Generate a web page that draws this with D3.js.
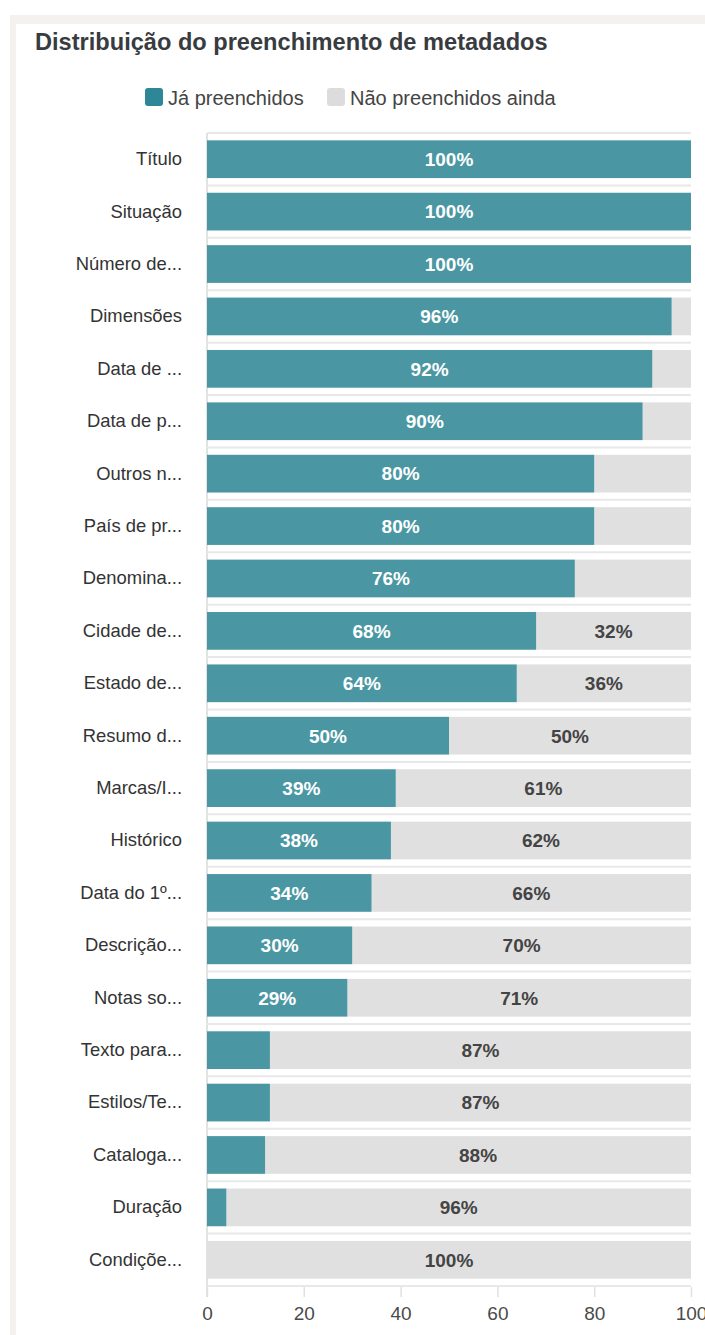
<!DOCTYPE html>
<html>
<head>
<meta charset="utf-8">
<script src="https://cdn.jsdelivr.net/npm/d3@7/dist/d3.min.js"></script>
<style>
  html, body { margin: 0; padding: 0; background: #fff; }
  svg { display: block; font-family: "Liberation Sans", Arial, Helvetica, sans-serif; }
</style>
</head>
<body>
<script>
// Metadata fields (short labels as shown on the axis)
const categories = [
  "Título", "Situação", "Número de...", "Dimensões", "Data de ...", "Data de p...",
  "Outros n...", "País de pr...", "Denomina...", "Cidade de...", "Estado de...",
  "Resumo d...", "Marcas/I...", "Histórico", "Data do 1º...", "Descrição...",
  "Notas so...", "Texto para...", "Estilos/Te...", "Cataloga...", "Duração", "Condiçõe..."
];
// Percentage of records with the field filled in
const filled = [100, 100, 100, 96, 92, 90, 80, 80, 76, 68, 64, 50, 39, 38, 34, 30, 29, 13, 13, 12, 4, 0];
// Percentage still empty
const notFilled = [0, 0, 0, 4, 8, 10, 20, 20, 24, 32, 36, 50, 61, 62, 66, 70, 71, 87, 87, 88, 96, 100];
const seriesNames = ["Já preenchidos", "Não preenchidos ainda"];
const xTicks = [0, 20, 40, 60, 80, 100];

const W = 705, H = 1335;
const colors = { filled: "#4a97a3", empty: "#e0e0e0", swatchFilled: "#2e8796", swatchEmpty: "#dcdcdc" };

const svg = d3.select("body").append("svg").attr("width", W).attr("height", H);

// Panel frame: light grey border on top and left
svg.append("rect").attr("x", 10).attr("y", 15).attr("width", W - 10).attr("height", H - 15).attr("fill", "#f3f2f1");
svg.append("rect").attr("x", 16).attr("y", 24).attr("width", W - 16).attr("height", H - 24).attr("fill", "#fff");

svg.append("text")
  .attr("x", 35).attr("y", 50)
  .attr("font-size", 23.6).attr("font-weight", "bold").attr("fill", "#383c40")
  .text("Distribuição do preenchimento de metadados");

// Legend
const legendItems = [
  { name: seriesNames[0], color: colors.swatchFilled, x: 145, tx: 168 },
  { name: seriesNames[1], color: colors.swatchEmpty, x: 327, tx: 350 }
];
const lg = svg.append("g");
lg.selectAll("rect").data(legendItems).join("rect")
  .attr("x", d => d.x).attr("y", 88).attr("width", 18).attr("height", 18).attr("rx", 3)
  .attr("fill", d => d.color);
lg.selectAll("text").data(legendItems).join("text")
  .attr("x", d => d.tx).attr("y", 105)
  .attr("font-size", 20).attr("fill", "#444")
  .text(d => d.name);

// Scales
const x = d3.scaleLinear().domain([0, 100]).range([207, 691]);
const y = d3.scaleBand().domain(categories).range([133, 1286]).paddingInner(0.28).paddingOuter(0.14);

const rows = categories.map((c, i) => ({ cat: c, filled: filled[i], empty: notFilled[i] }));

// Baseline at zero
svg.append("line")
  .attr("x1", x(0)).attr("x2", x(0)).attr("y1", 133).attr("y2", 1297)
  .attr("stroke", "#e2e2e2").attr("stroke-width", 2);

// Horizontal separators between category bands
const bounds = categories.map(c => y(c) - y.step() * y.paddingInner() / 2).concat([y.range()[1]]);
svg.append("g").selectAll("line").data(bounds).join("line")
  .attr("x1", x(0)).attr("x2", x(100))
  .attr("y1", d => d).attr("y2", d => d)
  .attr("stroke", "#e8e8e8").attr("stroke-width", 2);

// Stacked bars
const g = svg.append("g");
g.selectAll("rect.empty").data(rows).join("rect").attr("class", "empty")
  .attr("x", d => x(d.filled)).attr("y", d => y(d.cat))
  .attr("width", d => x(d.filled + d.empty) - x(d.filled)).attr("height", y.bandwidth())
  .attr("fill", colors.empty);
g.selectAll("rect.filled").data(rows).join("rect").attr("class", "filled")
  .attr("x", x(0)).attr("y", d => y(d.cat))
  .attr("width", d => x(d.filled) - x(0)).attr("height", y.bandwidth())
  .attr("fill", colors.filled);

// Value labels (only on segments wide enough)
const minLabel = 25;
g.selectAll("text.vf").data(rows.filter(d => d.filled >= minLabel)).join("text").attr("class", "vf")
  .attr("x", d => (x(0) + x(d.filled)) / 2).attr("y", d => y(d.cat) + y.bandwidth() / 2)
  .attr("dy", "0.36em").attr("text-anchor", "middle")
  .attr("font-size", 19).attr("font-weight", "bold").attr("fill", "#fff")
  .text(d => d.filled + "%");
g.selectAll("text.ve").data(rows.filter(d => d.empty >= minLabel)).join("text").attr("class", "ve")
  .attr("x", d => (x(d.filled) + x(100)) / 2).attr("y", d => y(d.cat) + y.bandwidth() / 2)
  .attr("dy", "0.36em").attr("text-anchor", "middle")
  .attr("font-size", 19).attr("font-weight", "bold").attr("fill", "#444")
  .text(d => d.empty + "%");

// Category axis
const yAxis = svg.append("g").attr("transform", `translate(${x(0)},0)`)
  .call(d3.axisLeft(y).tickSize(0).tickPadding(25));
yAxis.select(".domain").remove();
yAxis.selectAll("text").attr("font-size", 18.4).attr("fill", "#333").attr("font-family", "Liberation Sans, Arial, sans-serif");

// Value axis
const xAxis = svg.append("g").attr("transform", "translate(0,1287)")
  .call(d3.axisBottom(x).tickValues(xTicks).tickSize(10).tickPadding(10));
xAxis.select(".domain").remove();
xAxis.selectAll("line").attr("stroke", "#e0e0e0").attr("stroke-width", 1.5);
xAxis.selectAll("text").attr("font-size", 19).attr("fill", "#4a4a4a").attr("font-family", "Liberation Sans, Arial, sans-serif");
</script>
</body>
</html>
